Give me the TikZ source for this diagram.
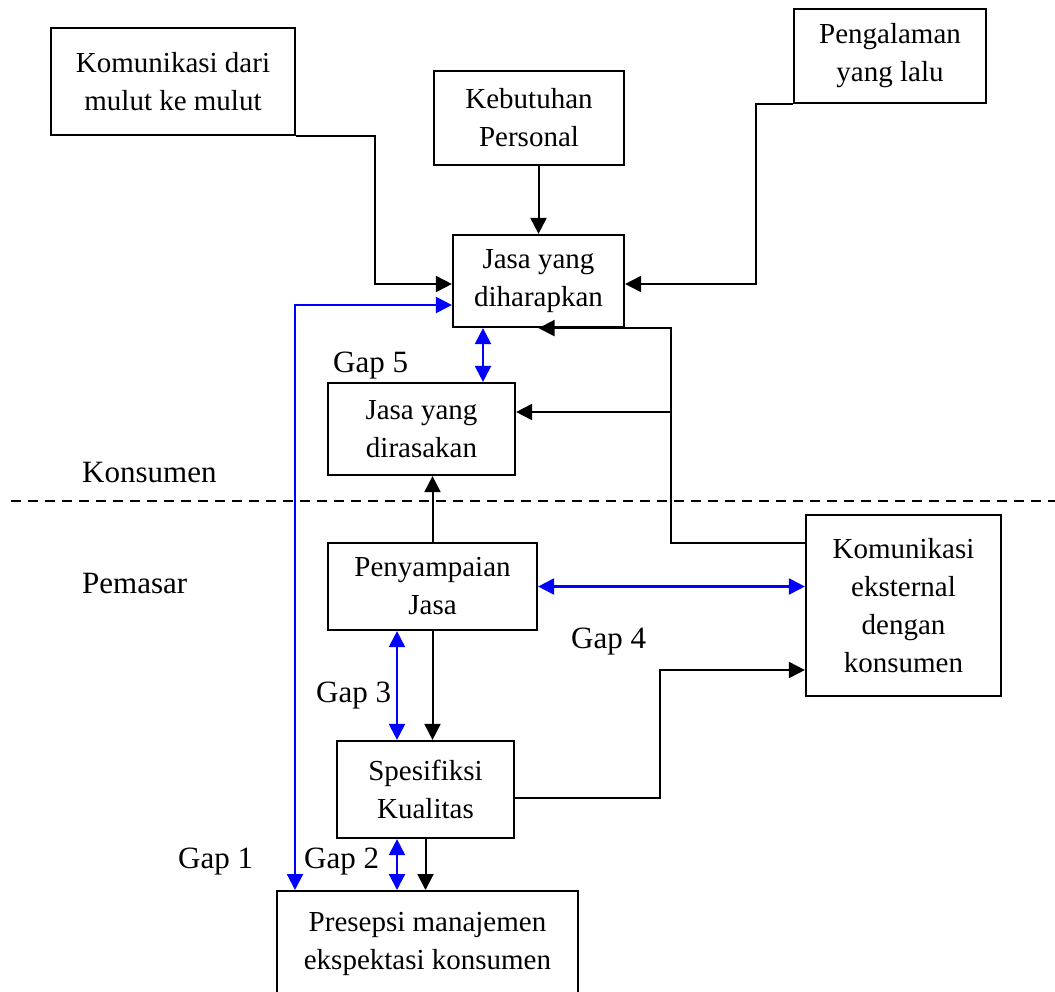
\documentclass[tikz,border=0pt]{standalone}
\usepackage{fontspec}
\setmainfont{Liberation Serif}
\usetikzlibrary{arrows.meta,calc}

\begin{document}
\begin{tikzpicture}[x=1pt,y=-1pt,
	kotak/.style={draw,line width=2.2pt,align=center,inner sep=0pt,font=\fontsize{29}{38}\selectfont},
	panah/.style={line width=2pt,-{Triangle[length=16pt,width=16pt]}},
	gapp/.style={blue,line width=2.2pt,{Triangle[length=16pt,width=16pt]}-{Triangle[length=16pt,width=16pt]}},
	teks/.style={anchor=base west,inner sep=0pt,font=\fontsize{31}{38}\selectfont}]
	\useasboundingbox (0,0) rectangle (1055,991);
	%\draw[help lines,step=50] (0,0) grid (1055,991);
	%KOTAK
	\node[kotak,minimum width=244pt,minimum height=107pt] (mulut) at (173,81.5) {Komunikasi dari\\mulut ke mulut};
	\node[kotak,minimum width=190pt,minimum height=94pt] (kebutuhan) at (529,118) {Kebutuhan\\Personal};
	\node[kotak,minimum width=192pt,minimum height=94pt] (pengalaman) at (890,56) {Pengalaman\\yang lalu};
	\node[kotak,minimum width=171pt,minimum height=92pt] (harap) at (538.5,281) {Jasa yang\\diharapkan};
	\node[kotak,minimum width=187pt,minimum height=92pt] (rasa) at (421.5,429) {Jasa yang\\dirasakan};
	\node[kotak,minimum width=209pt,minimum height=87pt] (sampai) at (432.5,586.5) {Penyampaian\\Jasa};
	\node[kotak,minimum width=195pt,minimum height=181pt] (eksternal) at (903.5,605.5) {Komunikasi\\eksternal\\dengan\\konsumen};
	\node[kotak,minimum width=177pt,minimum height=97pt] (spesifik) at (425.5,789.5) {Spesifiksi\\Kualitas};
	\node[kotak,anchor=north,minimum width=301pt,minimum height=106pt] (presepsi) at (427.5,890) {Presepsi manajemen\\ekspektasi konsumen};
	%LABEL
	\draw[line width=2pt,dash pattern=on 10pt off 7pt] (11,501) -- (1055,501);
	\node[teks] (konsumen) at (82,482) {Konsumen};
	\node[teks] (pemasar) at (82,593) {Pemasar};
	\node[teks] (gap5) at (333,372) {Gap 5};
	\node[teks] (gap4) at (571,648) {Gap 4};
	\node[teks] (gap3) at (316,702) {Gap 3};
	\node[teks] (gap1) at (178,868) {Gap 1};
	\node[teks] (gap2) at (304,868) {Gap 2};
	%TITIK BELOK
	\coordinate (b1) at (375,284);
	\coordinate (b2) at (756,284);
	\coordinate (b3) at (295,305);
	\coordinate (b4) at (671,543);
	\coordinate (b5) at (671,412);
	\coordinate (b6) at (660,798);
	\coordinate (b7) at (660,670);
	\coordinate (g5) at (483,0);
	\coordinate (gx) at (397,0);
	%PANAH
	\draw[panah] (mulut.south east) -| (b1) -- (b1 -| harap.west);
	\draw[panah] (kebutuhan.south -| harap.north) -- (harap.north);
	\draw[panah] (pengalaman.south west) -| (b2) -- (b2 -| harap.east);
	\draw[panah] (b4 -| eksternal.west) -- (b4) |- (harap.south);
	\draw[panah] (b5) -- (b5 -| rasa.east);
	\draw[panah] (sampai.north) -- (sampai.north |- rasa.south);
	\draw[panah] (sampai.south) -- (sampai.south |- spesifik.north);
	\draw[panah] (b6 -| spesifik.east) -- (b6) -- (b7) -- (b7 -| eksternal.west);
	\draw[panah] (spesifik.south) -- (spesifik.south |- presepsi.north);
	%GAP
	\draw[gapp] (b3 -| harap.west) -- (b3) -- (b3 |- presepsi.north);
	\draw[gapp] (harap.south -| g5) -- (rasa.north -| g5);
	\draw[gapp] (sampai.east) -- (sampai.east -| eksternal.west);
	\draw[gapp] (sampai.south -| gx) -- (spesifik.north -| gx);
	\draw[gapp] (spesifik.south -| gx) -- (presepsi.north -| gx);
\end{tikzpicture}
\end{document}
